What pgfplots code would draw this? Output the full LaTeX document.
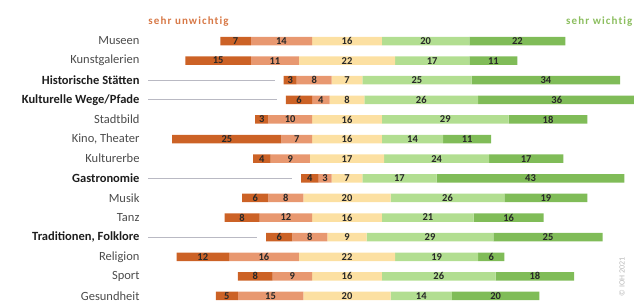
\documentclass[border=0pt]{standalone}
\usepackage{pgfplots}
\pgfplotsset{compat=1.18}
\usepackage{pgfplotstable}
\usepackage{fontspec}
\setmainfont{Carlito}
\definecolor{cA}{RGB}{204,98,38}
\definecolor{cB}{RGB}{232,152,112}
\definecolor{cC}{RGB}{252,224,162}
\definecolor{cD}{RGB}{178,222,145}
\definecolor{cE}{RGB}{128,188,88}
\definecolor{numcol}{RGB}{40,40,40}
\definecolor{labcol}{RGB}{75,75,75}
\definecolor{boldcol}{RGB}{30,30,30}
\definecolor{linecol}{RGB}{185,185,195}
\definecolor{headorange}{RGB}{215,120,70}
\definecolor{headgreen}{RGB}{140,190,95}

% a, b: unwichtig (sehr, eher); c: neutral; d, e: wichtig (eher, sehr)
\pgfplotstableread{
idx a b c d e
0 7 14 16 20 22
1 15 11 22 17 11
2 3 8 7 25 34
3 6 4 8 26 36
4 3 10 16 29 18
5 25 7 16 14 11
6 4 9 17 24 17
7 4 3 7 17 43
8 6 8 20 26 19
9 8 12 16 21 16
10 6 8 9 29 25
11 12 16 22 19 6
12 8 9 16 26 18
13 5 15 20 14 20
}\data

\begin{document}
\begin{tikzpicture}[x=1pt,y=1pt]
% the centre of the neutral segment lies at x = 50
\pgfplotsset{base/.style={
  scale only axis, width=486pt, height=274.6pt,
  xmin=4.46, xmax=115.68, ymin=-0.5, ymax=13.5, y dir=reverse,
  axis line style={draw=none}, tick style={draw=none},
  xtick=\empty,
  anchor=south west, at={(148pt,-1.8pt)}}}
\begin{axis}[base, xbar stacked, bar width=8.5pt, ytick=\empty]
\addplot[draw=none, fill=none] table[x expr={50-(\thisrow{a}+\thisrow{b}+0.5*\thisrow{c})}, y=idx]{\data};
\addplot[draw=none, fill=cA] table[x=a, y=idx]{\data};
\addplot[draw=none, fill=cB] table[x=b, y=idx]{\data};
\addplot[draw=none, fill=cC] table[x=c, y=idx]{\data};
\addplot[draw=none, fill=cD] table[x=d, y=idx]{\data};
\addplot[draw=none, fill=cE] table[x=e, y=idx]{\data};
\end{axis}
\begin{axis}[base,
  ytick={0,...,13},
  yticklabels={Museen, Kunstgalerien, \textcolor{boldcol}{\textbf{Historische Stätten}}, \textcolor{boldcol}{\textbf{Kulturelle Wege/Pfade}}, Stadtbild, {Kino, Theater}, Kulturerbe, \textcolor{boldcol}{\textbf{Gastronomie}}, Musik, Tanz, {\textcolor{boldcol}{\textbf{Traditionen, Folklore}}}, Religion, Sport, Gesundheit},
  yticklabel style={font=\fontsize{12.5}{14}\selectfont, text=labcol, xshift=-5pt},
  every node near coord/.append style={anchor=center, font=\bfseries\fontsize{10.5}{12}\selectfont, text=numcol},
  ]
\addplot[linecol, line width=0.9pt] coordinates {(4,2) (33.5,2)};
\addplot[linecol, line width=0.9pt] coordinates {(4,3) (34,3)};
\addplot[linecol, line width=0.9pt] coordinates {(4,7) (37.5,7)};
\addplot[linecol, line width=0.9pt] coordinates {(4,10) (29.5,10)};
\addplot[draw=none, mark=none, nodes near coords, point meta=explicit symbolic]
  table[x expr={50-(0.5*\thisrow{a}+\thisrow{b}+0.5*\thisrow{c})}, y=idx, meta=a]{\data};
\addplot[draw=none, mark=none, nodes near coords, point meta=explicit symbolic]
  table[x expr={50-(0.5*\thisrow{b}+0.5*\thisrow{c})}, y=idx, meta=b]{\data};
\addplot[draw=none, mark=none, nodes near coords, point meta=explicit symbolic]
  table[x expr=50, y=idx, meta=c]{\data};
\addplot[draw=none, mark=none, nodes near coords, point meta=explicit symbolic]
  table[x expr={50+0.5*\thisrow{c}+0.5*\thisrow{d}}, y=idx, meta=d]{\data};
\addplot[draw=none, mark=none, nodes near coords, point meta=explicit symbolic]
  table[x expr={50+0.5*\thisrow{c}+\thisrow{d}+0.5*\thisrow{e}}, y=idx, meta=e]{\data};
\end{axis}
\node[font=\bfseries\fontsize{11}{13}\selectfont\addfontfeatures{LetterSpace=10,Ligatures=NoCommon}, text=headorange] at (188.5,282) {sehr unwichtig};
\node[font=\bfseries\fontsize{11}{13}\selectfont\addfontfeatures{LetterSpace=10,Ligatures=NoCommon}, text=headgreen, anchor=west, inner sep=0pt] at (566,282) {sehr wichtig};
\node[font=\fontsize{8}{9}\selectfont, text=gray!55, rotate=90] at (622,27) {© IOH 2021};
\pgfresetboundingbox
\path (0,0) rectangle (634,304);
\end{tikzpicture}
\end{document}
